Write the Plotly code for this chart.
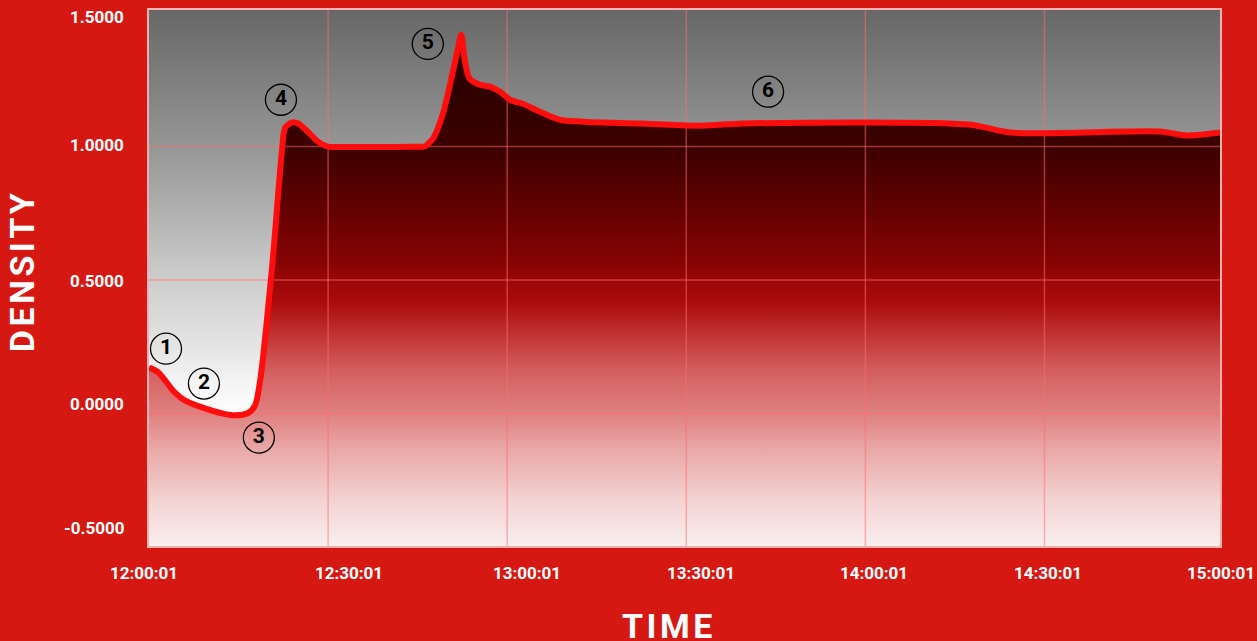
import plotly.graph_objects as go
import pandas as pd

BASE = "2024-01-01 "

# ---- data ----
times = ["12:00:01", "12:01:31", "12:04:22", "12:06:01", "12:10:34", "12:13:55",
         "12:16:37", "12:17:46", "12:18:37", "12:20:37", "12:22:19", "12:22:49",
         "12:24:01", "12:25:01", "12:26:37", "12:28:19", "12:29:49", "12:32:49",
         "12:38:01", "12:44:01", "12:46:13", "12:46:37", "12:47:37",
         "12:49:13", "12:50:55", "12:51:46", "12:52:19", "12:52:56", "12:53:43",
         "12:55:19", "12:57:07", "12:58:49", "13:00:31", "13:02:37", "13:05:31",
         "13:08:49", "13:12:43", "13:22:13", "13:31:49", "13:39:31", "14:17:19",
         "14:24:25", "14:49:19", "14:53:55", "14:59:25"]
density = [0.172, 0.155, 0.078, 0.049, 0.011, -0.006,
           0.002, 0.030, 0.120, 0.545, 0.990, 1.070,
           1.090, 1.086, 1.055, 1.018, 1.000, 0.998,
           0.998, 0.999, 1.000, 1.007, 1.030,
           1.120, 1.280, 1.366, 1.418, 1.320, 1.254,
           1.232, 1.224, 1.205, 1.175, 1.160, 1.130,
           1.100, 1.093, 1.086, 1.078, 1.086, 1.082,
           1.052, 1.056, 1.041, 1.052]

x_tick_labels = ["12:00:01", "12:30:01", "13:00:01", "13:30:01", "14:00:01", "14:30:01", "15:00:01"]
x_label_pos = [-0.0047, 0.1867, 0.353, 0.5154, 0.677, 0.8394, 1.001]   # paper fraction
y_tick_labels = ["1.5000", "1.0000", "0.5000", "0.0000", "-0.5000"]
y_label_pos = [1.485, 1.007, 0.496, 0.037, -0.429]

x_grid = ["12:30:01", "13:00:01", "13:30:01", "14:00:01", "14:30:01"]
y_grid = [0.0, 0.5, 1.0]

circle_labels = ["1", "2", "3", "4", "5", "6"]
circle_times = ["12:02:52", "12:09:13", "12:18:25", "12:22:07", "12:46:43", "13:43:43"]
circle_vals = [0.243, 0.112, -0.090, 1.175, 1.384, 1.205]

X_RANGE = ["12:00:01", "14:59:25"]
Y_RANGE = [-0.496, 1.511]

# ---- styling ----
BG_RED = "#d61813"
LINE_RED = "#ff0c0c"
FONT = "Roboto"

t = pd.to_datetime([BASE + s for s in times])
xr = pd.to_datetime([BASE + s for s in X_RANGE])

fig = go.Figure()

# plot-area background gradient (grey -> white)
fig.add_trace(go.Scatter(x=list(xr), y=[Y_RANGE[0]] * 2, mode="lines",
                         line=dict(width=0), hoverinfo="skip", showlegend=False))
fig.add_trace(go.Scatter(
    x=list(xr), y=[Y_RANGE[1]] * 2, mode="lines", line=dict(width=0),
    fill="tonexty", hoverinfo="skip", showlegend=False,
    fillgradient=dict(type="vertical", start=Y_RANGE[0], stop=Y_RANGE[1],
                      colorscale=[[0.0, "#ffffff"], [0.247, "#ffffff"], [0.307, "#f4f4f4"],
                                  [0.382, "#e3e3e3"], [0.491, "#cfcfcf"], [0.745, "#969696"],
                                  [1.0, "#676767"]])))

# area under the curve
fig.add_trace(go.Scatter(x=t, y=[Y_RANGE[0]] * len(t), mode="lines",
                         line=dict(width=0), hoverinfo="skip", showlegend=False))
fig.add_trace(go.Scatter(
    x=t, y=density, mode="lines", line=dict(width=0, shape="spline", smoothing=0.8),
    fill="tonexty", hoverinfo="skip", showlegend=False,
    fillgradient=dict(type="vertical", start=Y_RANGE[0], stop=max(density),
                      colorscale=[[0.0, "#f9f0f0"], [0.089, "#f4d4d4"], [0.187, "#eaaaaa"],
                                  [0.259, "#e08282"], [0.342, "#d46060"], [0.42, "#c03030"],
                                  [0.479, "#aa0a0a"], [0.514, "#9e0808"], [0.557, "#860404"],
                                  [0.674, "#5e0000"], [0.78, "#3c0000"], [1.0, "#250000"]])))

# grid lines (drawn as traces so they sit over the fills but under the curve)
gx, gy = [], []
for g in x_grid:
    gx += [pd.Timestamp(BASE + g)] * 2 + [None]
    gy += [Y_RANGE[0], Y_RANGE[1], None]
fig.add_trace(go.Scatter(x=gx, y=gy, mode="lines", hoverinfo="skip", showlegend=False,
                         line=dict(color="rgba(255,110,110,0.5)", width=1.5)))
hx, hy = [], []
for g in y_grid:
    hx += [xr[0], xr[1], None]
    hy += [g, g, None]
fig.add_trace(go.Scatter(x=hx, y=hy, mode="lines", hoverinfo="skip", showlegend=False,
                         line=dict(color="rgba(255,110,110,0.5)", width=1.5)))

# the density curve
fig.add_trace(go.Scatter(x=t, y=density, mode="lines", showlegend=False,
                         line=dict(color=LINE_RED, width=6, shape="spline", smoothing=0.8)))

# circled markers
fig.add_trace(go.Scatter(
    x=pd.to_datetime([BASE + s for s in circle_times]), y=circle_vals,
    mode="markers+text", text=["<b>%s</b>" % c for c in circle_labels],
    textposition="middle center", showlegend=False, hoverinfo="skip",
    textfont=dict(family=FONT, size=21, color="black"),
    marker=dict(symbol="circle", size=31, color="rgba(0,0,0,0)",
                line=dict(color="black", width=1.3))))

annotations = []
for lbl, px in zip(x_tick_labels, x_label_pos):
    annotations.append(dict(text="<b>%s</b>" % lbl, xref="paper", yref="paper", x=px, y=0,
                            yshift=-27, xanchor="center", yanchor="middle", showarrow=False,
                            font=dict(family=FONT, size=17, color="white")))
for lbl, py in zip(y_tick_labels, y_label_pos):
    annotations.append(dict(text="<b>%s</b>" % lbl, xref="paper", yref="y", x=0, y=py,
                            xshift=-23, xanchor="right", yanchor="middle", showarrow=False,
                            font=dict(family=FONT, size=17, color="white")))
annotations.append(dict(text="<b>T\u200aI\u200aM\u200aE</b>", xref="paper", yref="paper",
                        x=0.4837, y=0, yshift=-80, xanchor="center", yanchor="middle",
                        showarrow=False, font=dict(family=FONT, size=34, color="white")))
annotations.append(dict(text="<b>D\u200aE\u200aN\u200aS\u200aI\u200aT\u200aY</b>", xref="paper",
                        yref="paper", x=0, y=0.509, xshift=-127, xanchor="center",
                        yanchor="middle", textangle=-90, showarrow=False,
                        font=dict(family=FONT, size=34, color="white")))

fig.update_layout(
    width=1257, height=641,
    margin=dict(l=149, r=37, t=8, b=95),
    paper_bgcolor=BG_RED, plot_bgcolor="white",
    annotations=annotations,
    xaxis=dict(type="date", range=list(xr), showgrid=False, zeroline=False,
               showticklabels=False, ticks="", showline=True, mirror=True,
               linecolor="rgba(255,205,205,0.85)", linewidth=1.5, fixedrange=True),
    yaxis=dict(range=Y_RANGE, showgrid=False, zeroline=False, showticklabels=False,
               ticks="", showline=True, mirror=True,
               linecolor="rgba(255,205,205,0.85)", linewidth=1.5, fixedrange=True),
)

fig.write_html("out.html")
